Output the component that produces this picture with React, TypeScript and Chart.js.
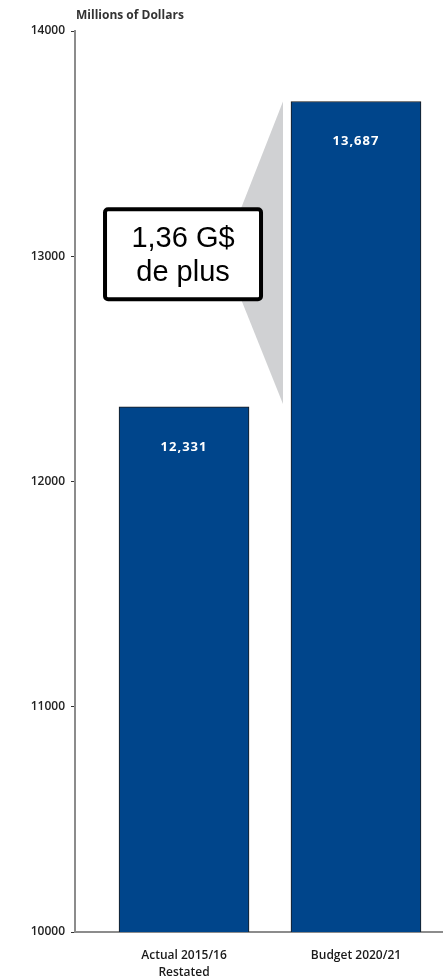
import React, { useEffect, useRef } from 'react';
import { Chart, registerables } from 'chart.js';
Chart.register(...registerables);

const categories: string[][] = [['Actual 2015/16', 'Restated'], ['Budget 2020/21']];
const positions = [1, 2];
const values = [12331, 13687];
const valueLabels = ['12,331', '13,687'];
const yTicks = [10000, 11000, 12000, 13000, 14000];
const axisTitle = 'Millions of Dollars';
const calloutLines = ['1,36 G$', 'de plus'];

const annotate = {
  id: 'annotate',
  afterDraw(chart: any) {
    const ctx = chart.ctx;
    const meta = chart.getDatasetMeta(0);
    const ys = chart.scales.y;
    const b1 = meta.data[0];
    const b2 = meta.data[1];
    ctx.save();
    // axis title
    ctx.font = 'bold 12px "Open Sans"';
    ctx.fillStyle = '#333';
    ctx.textAlign = 'left';
    ctx.textBaseline = 'alphabetic';
    ctx.fillText(axisTitle, chart.chartArea.left + 1, 19);

    // value labels
    ctx.font = 'bold 13px "Open Sans"';
    (ctx as any).letterSpacing = '1px';
    ctx.fillStyle = '#ffffff';
    ctx.textAlign = 'center';
    ctx.textBaseline = 'middle';
    meta.data.forEach((bar: any, i: number) => {
      ctx.fillText(valueLabels[i], bar.x, bar.y + 40);
    });
    (ctx as any).letterSpacing = '0px';

    // grey wedge
    const cy = ys.getPixelForValue((values[0] + values[1]) / 2);
    const cx = b1.x - 1;
    const wx = b2.x - b2.width / 2 - 8;
    ctx.fillStyle = '#d0d1d3';
    ctx.beginPath();
    ctx.moveTo(wx, ys.getPixelForValue(values[1]));
    ctx.lineTo(wx, ys.getPixelForValue(values[0]) - 3);
    ctx.lineTo(cx + 40, cy);
    ctx.closePath();
    ctx.fill();

    // callout box
    const w = 156, h = 90;
    ctx.fillStyle = '#ffffff';
    ctx.strokeStyle = '#000000';
    ctx.lineWidth = 4;
    ctx.beginPath();
    (ctx as any).roundRect(cx - w / 2, cy - h / 2, w, h, 3);
    ctx.fill();
    ctx.stroke();
    ctx.fillStyle = '#000000';
    ctx.font = '29px "Liberation Sans"';
    ctx.textAlign = 'center';
    ctx.textBaseline = 'alphabetic';
    ctx.fillText(calloutLines[0], cx, cy - 7);
    ctx.fillText(calloutLines[1], cx, cy + 27);
    ctx.restore();
  },
};

export default function App() {
  const ref = useRef<HTMLCanvasElement>(null);
  useEffect(() => {
    if (!ref.current) return;
    const chart = new Chart(ref.current, {
      type: 'bar',
      data: {
        datasets: [
          {
            data: positions.map((p, i) => ({ x: p, y: values[i] })),
            backgroundColor: '#00458b',
            borderColor: '#1a1a1a',
            borderWidth: 1,
            barThickness: 130,
          } as any,
        ],
      },
      options: {
        animation: false,
        responsive: true,
        maintainAspectRatio: false,
        layout: { padding: { top: 31, right: 0, bottom: 0, left: 0 } },
        plugins: { legend: { display: false }, tooltip: { enabled: false } },
        scales: {
          x: {
            type: 'linear',
            offset: false,
            min: 0.366,
            max: 2.506,
            afterBuildTicks: (axis: any) => {
              axis.ticks = positions.map((v) => ({ value: v }));
            },
            afterFit: (s: any) => {
              s.height = 47;
            },
            grid: { display: false, drawTicks: false, offset: false },
            border: { color: '#8c8c8c', width: 2 },
            ticks: {
              padding: 15,
              color: '#1a1a1a',
              font: { family: 'Open Sans', size: 12, weight: '600', lineHeight: 1.4 },
              callback: (v: any) => categories[positions.indexOf(Number(v))] ?? '',
            },
          },
          y: {
            min: 10000,
            max: 14000,
            afterBuildTicks: (axis: any) => {
              axis.ticks = yTicks.map((v) => ({ value: v }));
            },
            afterFit: (s: any) => {
              s.width = 75;
            },
            grid: { drawOnChartArea: false, tickLength: 4, color: '#333', tickWidth: 1 },
            border: { color: '#8c8c8c', width: 2 },
            ticks: {
              padding: 6,
              color: '#222',
              font: { family: 'Open Sans', size: 12, weight: '600' },
              callback: (v: any) => String(v),
            },
          },
        },
      },
      plugins: [annotate],
    });
    return () => chart.destroy();
  }, []);
  return (
    <div style={{ position: 'fixed', left: 0, top: 0, width: 443, height: 979 }}>
      <canvas ref={ref} />
    </div>
  );
}
